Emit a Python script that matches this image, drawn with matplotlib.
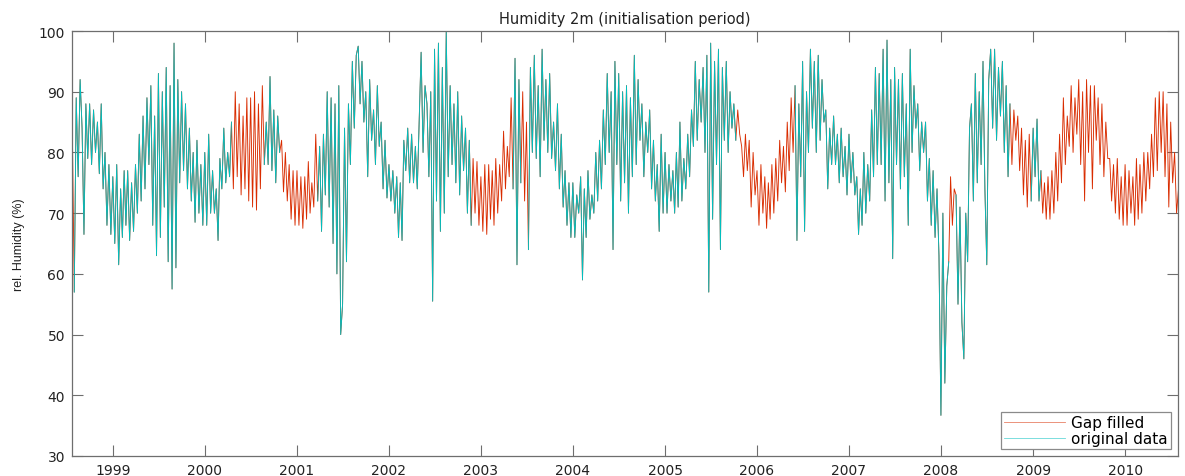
import calendar
from datetime import datetime, timedelta
import numpy as np
import matplotlib
matplotlib.use("Agg")
import matplotlib.pyplot as plt
import matplotlib.dates as mdates
from matplotlib.lines import Line2D

# ---- data: relative humidity, 4 readings per month (slots at 0, 1/4, 1/2, 3/4 of the month)
hum_1998 = [84,                      # late Jul
            57, 89, 76, 92, 84, 66.5, 88, 79, 88, 78, 87, 80,
            85, 76.5, 88, 74, 80, 68, 78, 66.5]
hum_1999 = [76, 65, 78, 61.5, 74, 66, 77, 68, 77, 65.5, 75, 67, 78, 70, 83, 72,
            86, 74, 89, 78, 91, 68, 86, 63, 93, 66, 90, 71, 94, 62, 91, 57.5,
            98, 61, 92, 75, 90, 77, 88, 74, 84, 72, 80, 68.5, 82, 70, 78, 68]
hum_2000 = [80, 68, 83, 70, 77, 70, 74, 65.5, 79, 74, 84, 75, 80, 76, 85, 74,
            90, 76, 88, 73, 86, 74, 89, 72, 89, 71, 90, 70.5, 88, 74, 91, 78,
            85, 78, 92.5, 77, 87, 75, 86, 80, 82, 73.5, 80, 72, 78, 69, 77, 68]
hum_2001 = [77, 68, 76, 67.5, 76, 69, 78.5, 70, 75, 71, 83, 72, 81, 67, 83, 73,
            90, 71, 89, 65, 88, 60, 91, 50, 55, 84, 62, 88, 78, 95, 84, 96,
            97.5, 88, 95, 85, 90, 76, 92, 82, 87, 78, 91, 81, 85, 74, 82, 72.5]
hum_2002 = [78, 72, 77, 70, 76, 66, 75, 65.5, 82, 77, 84, 75, 83, 75, 81, 74,
            85, 96.5, 80, 91, 88, 76, 90, 55.5, 97, 72, 98, 67, 94, 70, 100, 76,
            91, 78, 88, 75, 90, 73, 86, 77, 84, 70, 82, 68, 79, 70, 78.5, 68]
hum_2003 = [76, 67, 78, 66.5, 78, 69, 77, 68, 79, 70, 78, 72, 83.5, 74, 81, 76,
            89, 74, 95.5, 61.5, 92, 75, 90, 72, 85, 64, 94, 80, 96, 79, 91, 76,
            97, 82, 92, 80, 93, 79, 85, 77, 88, 74, 83, 71, 77, 68, 75, 66]
hum_2004 = [75, 66, 73, 70, 76, 59, 74, 66, 77, 69, 73, 70, 80, 72, 82, 74,
            87, 78, 93, 80, 90, 64, 95, 78, 93, 72, 90, 75, 91, 70, 89, 76,
            96, 78, 92, 82, 88, 76, 85, 80, 87, 74, 82, 72, 78, 67, 83, 70]
hum_2005 = [80, 70, 78, 72, 77, 70, 80, 71, 85, 72, 79, 74, 83, 76, 87, 81,
            95, 82, 92, 85, 94, 80, 96, 57, 98, 69, 95, 78, 97, 64, 94, 82,
            95, 80, 90, 84, 88, 82, 87, 83, 81, 76, 83, 77, 82, 71, 80, 73]
hum_2006 = [77, 68, 78, 70, 76, 67.5, 75, 69, 78, 70, 79, 72, 82, 75, 81, 73.5,
            85, 77, 89, 80, 91, 65.5, 88, 76, 95, 67, 90, 80, 97, 84, 95, 80,
            96, 82, 92, 85, 87, 74, 84, 78, 86, 78, 83, 75, 84, 76, 81, 73]
hum_2007 = [83, 75, 80, 73, 76, 66.5, 74, 68, 80, 70, 78, 72, 87, 76, 94, 78,
            93, 78, 97, 72, 98.5, 75, 92, 62.5, 94, 78, 92, 74, 93, 76, 88, 68,
            97, 80, 91, 84, 88, 77, 85, 80, 85, 72, 79, 68, 77, 66, 74, 63]
hum_2008 = [36.7, 70, 42, 58, 62, 76, 68, 74, 73, 55, 71, 52, 46, 70, 62, 84,
            88, 72, 93, 75, 90, 78, 95, 74, 61.5, 92, 97, 84, 97, 82, 94, 86,
            95, 80, 91, 76, 88, 78, 87, 82, 86, 77, 84, 73, 82, 71, 83, 72]
hum_2009 = [84, 76, 85.5, 72, 77, 70, 75, 69, 76, 69, 77, 70, 80, 72, 83, 75,
            89, 78, 86, 81, 91, 80, 89, 83, 92, 78, 90, 72, 92, 80, 91, 74,
            91, 82, 89, 78, 88, 76, 85, 79, 79, 72, 78, 70, 79, 69, 76, 68]
hum_2010 = [78, 68, 77, 70, 76, 68, 79, 69, 78, 70, 80, 72, 80, 74, 83, 76,
            89, 77, 90, 80, 90, 76, 88, 71, 85, 75, 80, 70,
            74]                      # 1 Aug

# first slot of each yearly list (slot = 4*(month-1) + quarter)
year_starts = [(1998, 27, hum_1998), (1999, 0, hum_1999), (2000, 0, hum_2000),
               (2001, 0, hum_2001), (2002, 0, hum_2002), (2003, 0, hum_2003),
               (2004, 0, hum_2004), (2005, 0, hum_2005), (2006, 0, hum_2006),
               (2007, 0, hum_2007), (2008, 0, hum_2008), (2009, 0, hum_2009),
               (2010, 0, hum_2010)]

# periods where the series was gap filled
gap_periods = [("1998-07-20", "1998-07-27"), ("2000-04-23", "2000-08-22"),
               ("2000-10-27", "2001-03-17"), ("2002-12-01", "2003-05-05"),
               ("2003-06-14", "2003-07-05"), ("2005-10-12", "2006-05-29"),
               ("2008-02-06", "2008-02-28"), ("2008-10-05", "2008-12-20"),
               ("2009-02-06", "2010-07-26")]

year_ticks = list(range(1999, 2011))
y_ticks = [30, 40, 50, 60, 70, 80, 90, 100]

RED = "#d92c00"
CYAN = "#00bfbf"


def slot_dates(year, first_slot, n):
    out = []
    for s in range(first_slot, first_slot + n):
        m0 = s // 4
        y = year + m0 // 12
        m = m0 % 12 + 1
        days = calendar.monthrange(y, m)[1]
        out.append(datetime(y, m, 1) + timedelta(days=(s % 4) / 4 * days))
    return out


dates, vals = [], []
for yr, first, v in year_starts:
    dates += slot_dates(yr, first, len(v))
    vals += v
t = mdates.date2num(dates)
vals = np.array(vals, dtype=float)

gap = np.zeros(len(t), dtype=bool)
for a, b in gap_periods:
    ta = mdates.date2num(datetime.fromisoformat(a))
    tb = mdates.date2num(datetime.fromisoformat(b))
    gap |= (t >= ta) & (t <= tb)
orig = vals.copy()
orig[gap] = np.nan

fig = plt.figure(figsize=(11.85, 4.77), dpi=100)
ax = fig.add_axes([72 / 1185, 1 - 457 / 477, (1178 - 72) / 1185, (457 - 32) / 477])

ax.plot(t, vals, color=RED, lw=0.65)
ax.plot(t, orig, color=CYAN, lw=0.65)

ax.set_xlim(mdates.date2num(datetime(1998, 7, 23)), mdates.date2num(datetime(2010, 7, 30)))
ax.set_ylim(30, 100)
ax.set_xticks([mdates.date2num(datetime(y, 1, 1)) for y in year_ticks])
ax.set_xticklabels([str(y) for y in year_ticks])
ax.set_yticks(y_ticks)
ax.tick_params(direction="in", length=8, width=0.8, color="#6e6e6e",
               top=True, right=True, labelsize=10, labelcolor="#222222", pad=5)
for s in ax.spines.values():
    s.set_color("#6e6e6e")
    s.set_linewidth(0.9)

ax.set_title("Humidity 2m (initialisation period)", fontsize=10.5, color="#222222", pad=6)
ax.set_ylabel("rel. Humidity (%)", fontsize=9, color="#222222", labelpad=10,
              family=["Liberation Sans", "DejaVu Sans"])

handles = [Line2D([], [], color=RED, lw=0.6, alpha=0.6),
           Line2D([], [], color=CYAN, lw=0.6, alpha=0.6)]
leg = ax.legend(handles, ["Gap filled", "original data"], loc="lower right",
                fontsize=11, fancybox=False, framealpha=1, edgecolor="#8a8a8a",
                handlelength=4.0, borderaxespad=0.45, labelspacing=0.05,
                borderpad=0.2, handletextpad=0.4)
leg.get_frame().set_linewidth(0.9)

fig.savefig("out.png", dpi=100)
